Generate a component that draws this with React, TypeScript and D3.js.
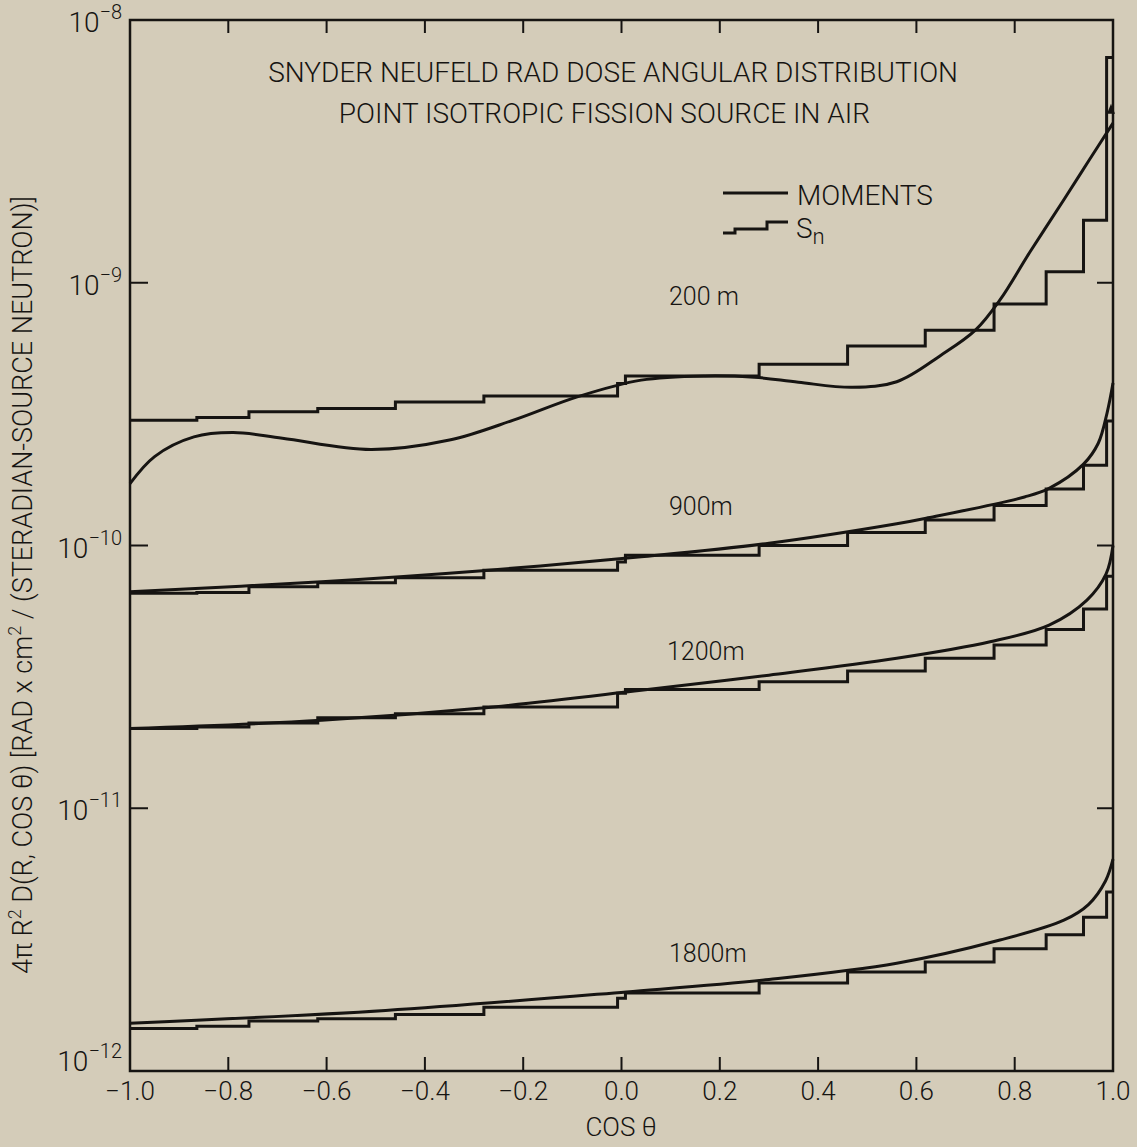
import React from 'react';
import * as d3 from 'd3';

// S_n angular bin edges (cos theta)
const binEdges = [-1.0, -0.864, -0.758, -0.618, -0.46, -0.28, -0.008, 0.008, 0.28, 0.46, 0.618, 0.758, 0.864, 0.94, 0.987, 1.0];

// S_n histogram values, one per bin
const sn200 = [3.0e-10, 3.07e-10, 3.23e-10, 3.32e-10, 3.52e-10, 3.71e-10, 4.14e-10, 4.42e-10, 4.9e-10, 5.75e-10, 6.6e-10, 8.3e-10, 1.1e-9, 1.73e-9, 7.2e-9];
const sn900 = [6.58e-11, 6.62e-11, 6.96e-11, 7.21e-11, 7.53e-11, 8.05e-11, 8.66e-11, 9.19e-11, 1.0e-10, 1.12e-10, 1.25e-10, 1.42e-10, 1.64e-10, 2.02e-10, 2.98e-10];
const sn1200 = [2.01e-11, 2.04e-11, 2.11e-11, 2.21e-11, 2.29e-11, 2.43e-11, 2.74e-11, 2.83e-11, 3.03e-11, 3.33e-11, 3.72e-11, 4.18e-11, 4.79e-11, 5.73e-11, 7.64e-11];
const sn1800 = [1.45e-12, 1.48e-12, 1.55e-12, 1.58e-12, 1.64e-12, 1.75e-12, 1.89e-12, 1.98e-12, 2.16e-12, 2.38e-12, 2.6e-12, 2.92e-12, 3.3e-12, 3.85e-12, 4.8e-12];

// moments method curves
const momCos200 = [-1.0, -0.95, -0.87, -0.79, -0.69, -0.51, -0.35, -0.22, -0.09, 0.04, 0.17, 0.27, 0.36, 0.47, 0.56, 0.65, 0.72, 0.77, 0.83, 0.9, 0.95, 1.0];
const mom200 = [1.72e-10, 2.18e-10, 2.59e-10, 2.69e-10, 2.56e-10, 2.32e-10, 2.52e-10, 3.0e-10, 3.68e-10, 4.26e-10, 4.42e-10, 4.37e-10, 4.18e-10, 4.0e-10, 4.2e-10, 5.3e-10, 6.6e-10, 8.6e-10, 1.3e-9, 2.07e-9, 2.9e-9, 4.05e-9];

const momCos900 = [-1.0, -0.61, -0.29, 0.04, 0.3, 0.56, 0.62, 0.82, 0.87, 0.94, 0.97, 0.988, 1.0];
const mom900 = [6.67e-11, 7.28e-11, 8.0e-11, 9.06e-11, 1.02e-10, 1.21e-10, 1.27e-10, 1.53e-10, 1.65e-10, 2.04e-10, 2.45e-10, 3.2e-10, 4.15e-10];

const momCos1200 = [-1.0, -0.61, -0.29, 0.04, 0.3, 0.56, 0.75, 0.87, 0.947, 0.986, 1.0];
const mom1200 = [2.01e-11, 2.16e-11, 2.4e-11, 2.81e-11, 3.21e-11, 3.72e-11, 4.3e-11, 4.98e-11, 6.2e-11, 7.8e-11, 1.0e-10];

const momCos1800 = [-1.0, -0.48, 0.01, 0.3, 0.56, 0.77, 0.9, 0.95, 0.985, 1.0];
const mom1800 = [1.52e-12, 1.7e-12, 2.0e-12, 2.23e-12, 2.57e-12, 3.15e-12, 3.75e-12, 4.3e-12, 5.3e-12, 6.4e-12];

const xTicks = [-1.0, -0.8, -0.6, -0.4, -0.2, 0.0, 0.2, 0.4, 0.6, 0.8, 1.0];
const xTickLabels = ['−1.0', '−0.8', '−0.6', '−0.4', '−0.2', '0.0', '0.2', '0.4', '0.6', '0.8', '1.0'];
const yTicks = [1e-8, 1e-9, 1e-10, 1e-11, 1e-12];
const yTickExp = ['−8', '−9', '−10', '−11', '−12'];

const curveLabels = ['200 m', '900m', '1200m', '1800m'];

const W = 1137;
const H = 1147;
const left = 130, right = 1113, top = 20, bottom = 1071;
const ink = '#161412';
const font = "Roboto, 'Liberation Sans', sans-serif";

export default function App() {
  const x = d3.scaleLinear().domain([-1, 1]).range([left, right]);
  const y = d3.scaleLog().domain([1e-12, 1e-8]).range([bottom, top]);

  const stair = d3.line<[number, number]>().curve(d3.curveStepAfter);
  const smooth = d3.line<[number, number]>().curve(d3.curveCatmullRom.alpha(0.5));

  const stairPath = (vals: number[]) =>
    stair(binEdges.map((e, i) => [x(e), y(vals[Math.min(i, vals.length - 1)])] as [number, number])) || '';
  const momPath = (cs: number[], vs: number[]) =>
    smooth(cs.map((c, i) => [x(c), y(vs[i])] as [number, number])) || '';

  const snSets = [sn200, sn900, sn1200, sn1800];
  const momSets: [number[], number[]][] = [
    [momCos200, mom200],
    [momCos900, mom900],
    [momCos1200, mom1200],
    [momCos1800, mom1800],
  ];
  const labelPos = [
    [669, 305],
    [669, 515],
    [667, 660],
    [669, 962],
  ];

  return (
    <svg width={W} height={H} style={{ position: 'absolute', left: 0, top: 0 }} fontFamily={font}>
      <rect width={W} height={H} fill="#d4ccb9" />

      {/* frame */}
      <rect x={left} y={top} width={right - left} height={bottom - top} fill="none" stroke={ink} strokeWidth={2.5} />

      {/* x ticks bottom and top */}
      {xTicks.slice(1, -1).map((t) => (
        <g key={'xt' + t}>
          <line x1={x(t)} x2={x(t)} y1={bottom} y2={bottom - 14} stroke={ink} strokeWidth={2} />
          <line x1={x(t)} x2={x(t)} y1={top} y2={top + 13} stroke={ink} strokeWidth={2} />
        </g>
      ))}
      {xTicks.map((t, i) => (
        <text key={'xl' + t} x={x(t)} y={1100} fontSize={26} textAnchor="middle" fill={ink} fontWeight={300}>
          {xTickLabels[i]}
        </text>
      ))}

      {/* y ticks left and right */}
      {yTicks.slice(1, -1).map((t) => (
        <g key={'yt' + t}>
          <line x1={left} x2={left + 18} y1={y(t)} y2={y(t)} stroke={ink} strokeWidth={2} />
          <line x1={right} x2={right - 16} y1={y(t)} y2={y(t)} stroke={ink} strokeWidth={2} />
        </g>
      ))}
      {yTicks.map((t, i) => (
        <text
          key={'yl' + t}
          x={122}
          y={i === yTicks.length - 1 ? y(t) : y(t) + 12}
          fontSize={28}
          textAnchor="end"
          fill={ink}
          fontWeight={300}
        >
          10
          <tspan dy={-13} fontSize={20}>
            {yTickExp[i]}
          </tspan>
        </text>
      ))}

      {/* axis titles */}
      <text x={621} y={1136} fontSize={26} textAnchor="middle" fill={ink} fontWeight={300}>
        COS θ
      </text>
      <text
        transform={`translate(32, ${585}) rotate(-90)`}
        fontSize={27}
        textAnchor="middle"
        fill={ink}
        fontWeight={300}
      >
        4π R<tspan dy={-11} fontSize={18}>2</tspan>
        <tspan dy={11}> D(R, COS θ) [RAD x cm</tspan>
        <tspan dy={-11} fontSize={18}>2</tspan>
        <tspan dy={11}> / (STERADIAN-SOURCE NEUTRON)]</tspan>
      </text>

      {/* title */}
      <text x={958} y={82} fontSize={28} textAnchor="end" fill={ink} fontWeight={300}>
        SNYDER NEUFELD RAD DOSE ANGULAR DISTRIBUTION
      </text>
      <text x={870} y={123} fontSize={28} textAnchor="end" fill={ink} fontWeight={300}>
        POINT ISOTROPIC FISSION SOURCE IN AIR
      </text>

      {/* legend */}
      <line x1={723} x2={788} y1={193} y2={193} stroke={ink} strokeWidth={3} />
      <text x={797} y={205} fontSize={28} fill={ink} fontWeight={300}>
        MOMENTS
      </text>
      <path d="M723,233 H735 V229 H767 V222 H788" fill="none" stroke={ink} strokeWidth={3} />
      <text x={796} y={238} fontSize={28} fill={ink} fontWeight={300}>
        S<tspan dy={6} fontSize={22}>n</tspan>
      </text>

      {/* curves */}
      <g fill="none" stroke={ink} strokeWidth={3} strokeLinejoin="miter">
        {snSets.map((s, i) => (
          <path key={'sn' + i} d={stairPath(s)} />
        ))}
        {momSets.map(([c, v], i) => (
          <path key={'m' + i} d={momPath(c, v)} />
        ))}
      </g>

      {/* arrow on 200 m last bin */}
      <path d={`M${x(1) - 2},${y(4.8e-9)} l-4,10 h8 z`} fill={ink} />

      {curveLabels.map((l, i) => (
        <text key={l} x={labelPos[i][0]} y={labelPos[i][1]} fontSize={25} fill={ink} fontWeight={300}>
          {l}
        </text>
      ))}
    </svg>
  );
}
